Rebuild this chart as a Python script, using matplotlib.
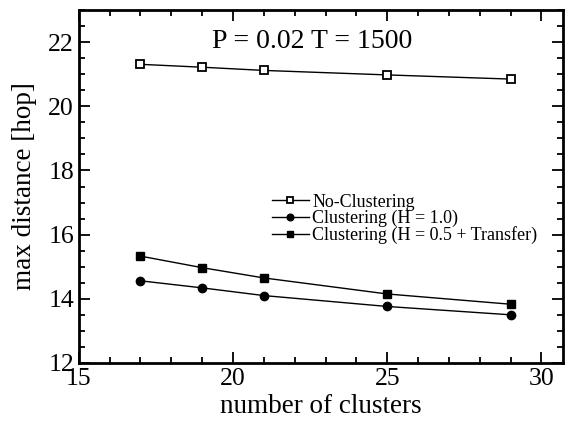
import matplotlib.pyplot as plt
from matplotlib.ticker import MultipleLocator

plt.rcParams['font.family'] = ['Liberation Serif', 'DejaVu Serif']

clusters = [17, 19, 21, 25, 29]
no_clustering = [21.31, 21.22, 21.12, 20.98, 20.85]
clustering_h10 = [14.56, 14.34, 14.10, 13.76, 13.50]
clustering_h05 = [15.33, 14.97, 14.65, 14.15, 13.83]

fig = plt.figure(figsize=(5.71, 4.22), dpi=100)
ax = fig.add_axes([0.138, 0.14, 0.848, 0.836])

ax.plot(clusters, no_clustering, color='k', lw=1, marker='s', ms=6,
        mfc='white', mec='k', mew=1.3, label='No-Clustering')
ax.plot(clusters, clustering_h10, color='k', lw=1, marker='o', ms=6,
        mfc='k', mec='k', label='Clustering (H = 1.0)')
ax.plot(clusters, clustering_h05, color='k', lw=1, marker='s', ms=6,
        mfc='k', mec='k', label='Clustering (H = 0.5 + Transfer)')

ax.set_xlim(15, 30.7)
ax.set_ylim(12, 23)
ax.xaxis.set_major_locator(MultipleLocator(5))
ax.xaxis.set_minor_locator(MultipleLocator(1))
ax.yaxis.set_major_locator(MultipleLocator(2))
ax.yaxis.set_minor_locator(MultipleLocator(0.5))
ax.tick_params(which='both', direction='in', top=True, right=True,
               labelsize=18.5, width=1.3)
ax.tick_params(which='major', length=8)
ax.tick_params(which='minor', length=4)
for s in ax.spines.values():
    s.set_linewidth(2)

ax.set_xlabel('number of clusters', fontsize=19.5, labelpad=3)
ax.set_ylabel('max distance [hop]', fontsize=19.5, labelpad=8)
ax.text(0.482, 0.91, 'P = 0.02 T = 1500', transform=ax.transAxes,
        ha='center', va='center', fontsize=20)

leg = ax.legend(loc='upper left', bbox_to_anchor=(0.385, 0.50), frameon=False,
                fontsize=13, handlelength=2.0, handletextpad=0.2,
                labelspacing=-0.05, borderaxespad=0, markerscale=0.8)

fig.savefig('out.png', dpi=100)
